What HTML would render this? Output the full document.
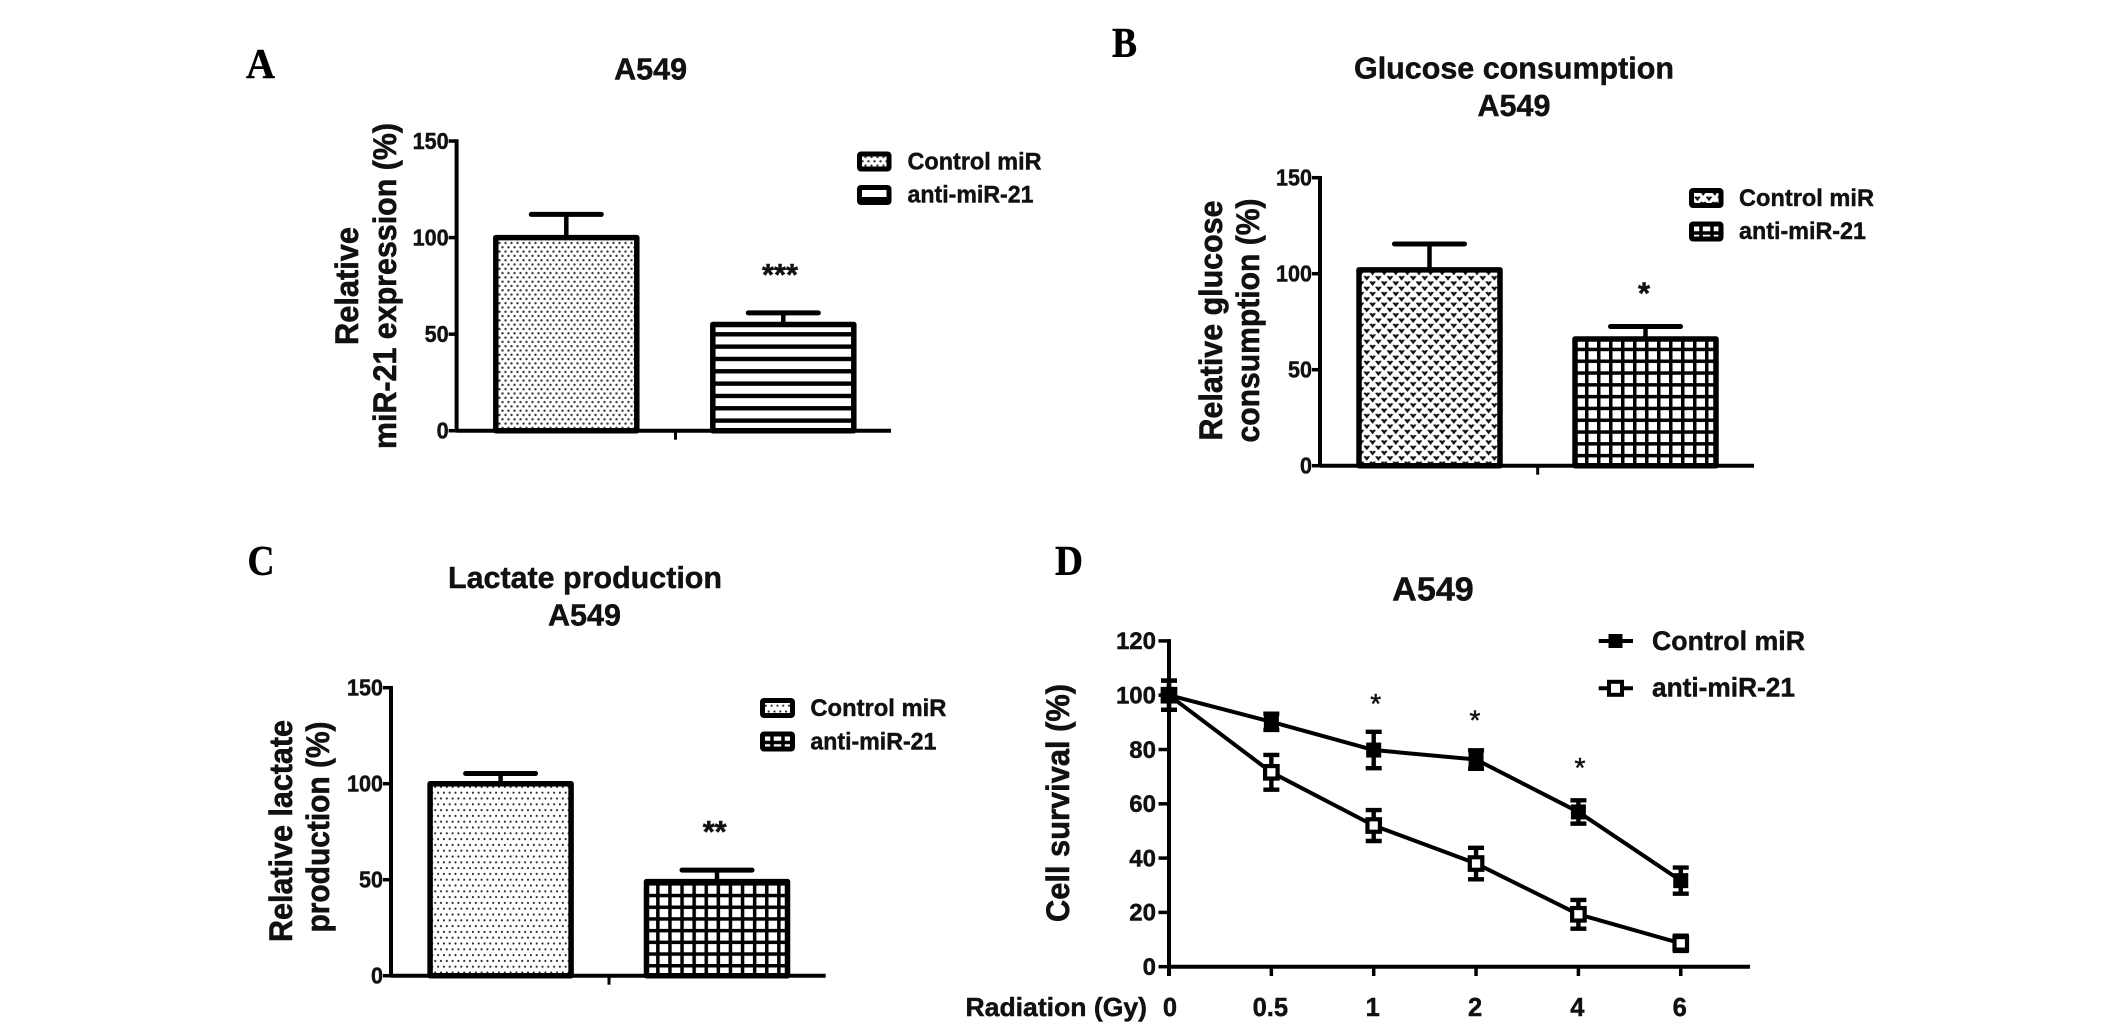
<!DOCTYPE html>
<html lang="en">
<head>
<meta charset="utf-8">
<title>miR-21 figure panels A-D</title>
<style>
html,body{margin:0;padding:0;background:#fff;width:2126px;height:1032px;overflow:hidden}
svg{display:block}
text{font-family:"Liberation Sans",Arial,sans-serif;font-weight:bold;fill:#111;stroke:#111;stroke-width:.45px}
.letter{font-family:"Liberation Serif","Times New Roman",serif;font-size:42px;fill:#000;stroke:#000}
.title{font-size:31px;text-anchor:middle}
.ytitle{font-size:32px;text-anchor:middle;stroke-width:.6px}
.leg{font-size:24.5px}
.star{font-size:31px;text-anchor:middle}
.tick{font-size:23px;text-anchor:end}
.dtick{font-size:24px;text-anchor:end}
.dx{font-size:25.5px;text-anchor:middle}
.dstar{font-size:28px;text-anchor:middle;font-weight:normal;stroke-width:.5px}
</style>
</head>
<body>
<svg id="fig" xmlns="http://www.w3.org/2000/svg" width="2126" height="1032" viewBox="0 0 2126 1032">
  <defs>
    <pattern id="pat-dots-a" patternUnits="userSpaceOnUse" width="6" height="8.6">
      <rect width="6" height="8.6" fill="#fff"/>
      <circle cx="1.5" cy="2.1" r="1.2" fill="#333"/>
      <circle cx="4.5" cy="6.4" r="1.2" fill="#333"/>
    </pattern>
    <pattern id="pat-stripes-a" patternUnits="userSpaceOnUse" width="20" height="12.33" y="332.1">
      <rect width="20" height="12.33" fill="#fff"/>
      <rect width="20" height="4.4" y="0" fill="#000"/>
    </pattern>
    <pattern id="pat-hearts-b" patternUnits="userSpaceOnUse" width="11.6" height="10.6" x="1357" y="270">
      <rect width="11.6" height="10.6" fill="#fff"/>
      <path d="M0.6 1 L3 .6 L4 1.6 L5 .6 L7.4 1 L4 5.4 Z" fill="#111"/>
      <path d="M6.4 6.3 L8.8 5.9 L9.8 6.9 L10.8 5.9 L13.2 6.3 L9.8 10.7 Z" fill="#111"/>
      <path d="M-5.2 6.3 L-2.8 5.9 L-1.8 6.9 L-0.8 5.9 L1.6 6.3 L-1.8 10.7 Z" fill="#111"/>
    </pattern>
    <pattern id="pat-grid-b" patternUnits="userSpaceOnUse" width="12" height="11.8" x="1573" y="465.7">
      <rect width="12" height="11.8" fill="#fff"/>
      <rect width="3.5" height="11.8" x="0" fill="#000"/>
      <rect width="12" height="3.5" y="0" fill="#000"/>
    </pattern>
    <pattern id="pat-dots-c" patternUnits="userSpaceOnUse" width="5.8" height="11.6" x="428" y="784">
      <rect width="5.8" height="11.6" fill="#fff"/>
      <circle cx="1.4" cy="2.9" r="1.05" fill="#222"/>
      <circle cx="4.3" cy="8.7" r="1.05" fill="#222"/>
    </pattern>
    <pattern id="pat-grid-c" patternUnits="userSpaceOnUse" width="12.1" height="11.7" x="644" y="975.7">
      <rect width="12.1" height="11.7" fill="#fff"/>
      <rect width="3.5" height="11.7" x="0" fill="#000"/>
      <rect width="12.1" height="3.5" y="0" fill="#000"/>
    </pattern>
  </defs>

  <!-- Panel A static text -->
  <g id="panel-a">
    <text class="letter" x="246" y="78" textLength="29" lengthAdjust="spacingAndGlyphs">A</text>
    <text class="title" x="650.6" y="79.3" textLength="73" lengthAdjust="spacingAndGlyphs">A549</text>
    <text class="ytitle" transform="translate(358,286) rotate(-90)" textLength="118" lengthAdjust="spacingAndGlyphs">Relative</text>
    <text class="ytitle" transform="translate(396,286) rotate(-90)" textLength="326" lengthAdjust="spacingAndGlyphs">miR-21 expression (%)</text>
    <rect x="859.5" y="154" width="29.5" height="15" rx="1.5" fill="url(#pat-dots-a)" stroke="#000" stroke-width="5"/>
    <rect x="859.5" y="187.5" width="29.5" height="15" rx="1.5" fill="#fff" stroke="#000" stroke-width="5"/>
    <rect x="859" y="197" width="30" height="6" fill="#000"/>
    <text class="leg" x="907.5" y="169.3" textLength="134" lengthAdjust="spacingAndGlyphs">Control miR</text>
    <text class="leg" x="907.5" y="202.7" textLength="126" lengthAdjust="spacingAndGlyphs">anti-miR-21</text>
    <text class="star" x="762" y="285" textLength="36" lengthAdjust="spacingAndGlyphs" style="text-anchor:start">***</text>
  </g>

  <!-- Panel B static text -->
  <g id="panel-b">
    <text class="letter" x="1112" y="57" textLength="25" lengthAdjust="spacingAndGlyphs">B</text>
    <text class="title" x="1514" y="78.3" textLength="320" lengthAdjust="spacingAndGlyphs">Glucose consumption</text>
    <text class="title" x="1514" y="116" textLength="73" lengthAdjust="spacingAndGlyphs">A549</text>
    <text class="ytitle" transform="translate(1222,320.5) rotate(-90)" textLength="240" lengthAdjust="spacingAndGlyphs">Relative glucose</text>
    <text class="ytitle" transform="translate(1259,320.5) rotate(-90)" textLength="244" lengthAdjust="spacingAndGlyphs">consumption (%)</text>
    <rect x="1691.5" y="190.5" width="29.5" height="15" rx="1.5" fill="url(#pat-hearts-b)" stroke="#000" stroke-width="5"/>
    <rect x="1691.5" y="224" width="29.5" height="15" rx="1.5" fill="#fff" stroke="#000" stroke-width="5"/>
    <path d="M1701 224V240M1712 224V240M1691 233H1721" stroke="#000" stroke-width="3.5" fill="none"/>
    <text class="leg" x="1739" y="206" textLength="135" lengthAdjust="spacingAndGlyphs">Control miR</text>
    <text class="leg" x="1739" y="239" textLength="127" lengthAdjust="spacingAndGlyphs">anti-miR-21</text>
    <text class="star" x="1644" y="303.6">*</text>
  </g>

  <!-- Panel C static text -->
  <g id="panel-c">
    <text class="letter" x="247.5" y="575" textLength="27" lengthAdjust="spacingAndGlyphs">C</text>
    <text class="title" x="585" y="588" textLength="274" lengthAdjust="spacingAndGlyphs">Lactate production</text>
    <text class="title" x="584.5" y="625.5" textLength="73" lengthAdjust="spacingAndGlyphs">A549</text>
    <text class="ytitle" transform="translate(292,831) rotate(-90)" textLength="222" lengthAdjust="spacingAndGlyphs">Relative lactate</text>
    <text class="ytitle" transform="translate(329,827) rotate(-90)" textLength="211" lengthAdjust="spacingAndGlyphs">production (%)</text>
    <rect x="762.5" y="700.5" width="30" height="15" rx="1.5" fill="url(#pat-dots-c)" stroke="#000" stroke-width="5"/>
    <rect x="762.5" y="734" width="30" height="15" rx="1.5" fill="#fff" stroke="#000" stroke-width="5"/>
    <path d="M772 734V750M783 734V750M762 742.5H792" stroke="#000" stroke-width="3.5" fill="none"/>
    <text class="leg" x="810.4" y="716" textLength="136" lengthAdjust="spacingAndGlyphs">Control miR</text>
    <text class="leg" x="810.4" y="749.3" textLength="126" lengthAdjust="spacingAndGlyphs">anti-miR-21</text>
    <text class="star" x="702.7" y="842" textLength="24" lengthAdjust="spacingAndGlyphs" style="text-anchor:start">**</text>
  </g>

  <!-- Panel D static text -->
  <g id="panel-d">
    <text class="letter" x="1055" y="575" textLength="28" lengthAdjust="spacingAndGlyphs">D</text>
    <text class="title" x="1433" y="600.7" style="font-size:33px" textLength="81.6" lengthAdjust="spacingAndGlyphs">A549</text>
    <text class="ytitle" transform="translate(1069,803) rotate(-90)" textLength="238" lengthAdjust="spacingAndGlyphs">Cell survival (%)</text>
    <text x="965.5" y="1016" style="font-size:26px" textLength="181.5" lengthAdjust="spacingAndGlyphs">Radiation (Gy)</text>
    <path d="M1598.7 641H1633" stroke="#000" stroke-width="4" fill="none"/>
    <rect x="1608.5" y="634" width="14" height="14" fill="#000"/>
    <path d="M1598.7 688.3H1633" stroke="#000" stroke-width="4" fill="none"/>
    <rect x="1609" y="681.8" width="13" height="13" fill="#fff" stroke="#000" stroke-width="4"/>
    <text x="1652" y="650" style="font-size:26.5px" textLength="153" lengthAdjust="spacingAndGlyphs">Control miR</text>
    <text x="1652" y="696.7" style="font-size:26.5px" textLength="143" lengthAdjust="spacingAndGlyphs">anti-miR-21</text>
    <text class="dstar" x="1375.7" y="713">*</text>
    <text class="dstar" x="1475" y="729.5">*</text>
    <text class="dstar" x="1580" y="777">*</text>
  </g>
</svg>

<script>
// ---- chart data ----
const barTickLabels = ['0', '50', '100', '150'];
const barTickValues = [0, 50, 100, 150];
const panelAMeans = [100, 55];
const panelAErrors = [12, 6];
const panelBMeans = [102, 66];
const panelBErrors = [13.5, 6.5];
const panelCMeans = [100, 49];
const panelCErrors = [5.3, 6];
const doseLabels = ['0', '0.5', '1', '2', '4', '6'];
const survivalTickValues = [0, 20, 40, 60, 80, 100, 120];
const controlSurvival = [100, 90.2, 79.8, 76.3, 57, 31.7];
const controlErrors = [5.4, 3, 6.7, 3.4, 4.3, 4.8];
const antiSurvival = [100, 71.6, 52, 38, 19.3, 8.6];
const antiErrors = [5.4, 6.4, 5.7, 5.8, 5.3, 2.8];

const NS = 'http://www.w3.org/2000/svg';
function make(tag, attrs, parent) {
  const el = document.createElementNS(NS, tag);
  for (const k in attrs) el.setAttribute(k, attrs[k]);
  parent.appendChild(el);
  return el;
}

function drawBarPanel(cfg, means, errors, fills) {
  const parent = document.getElementById(cfg.id);
  const y = v => cfg.y0 - v * cfg.yPerUnit;
  const x = i => cfg.x0 + i * cfg.step;

  // bars and error bars
  means.forEach((m, i) => {
    const cx = x(i);
    const stem = make('line', {x1: cx, x2: cx, y1: y(m), y2: y(m + errors[i]), stroke: '#000', 'stroke-width': 4.5}, parent);
    
    
    const cap = make('line', {x1: cx - 35, x2: cx + 35, y1: y(m + errors[i]), y2: y(m + errors[i]), stroke: '#000', 'stroke-width': 5, 'stroke-linecap': 'round'}, parent);
    
    
    const bar = make('rect', {x: cx - 70.5, y: y(m), width: 141, height: cfg.y0 - y(m), fill: fills[i], stroke: '#000', 'stroke-width': 5.5, 'stroke-linejoin': 'round'}, parent);
    
    
  });

  // y axis
  const yAxis = make('line', {x1: cfg.axisX, x2: cfg.axisX, y1: y(barTickValues[barTickValues.length - 1]) - 1.75, y2: cfg.y0 + 1.75, stroke: '#000', 'stroke-width': 4}, parent);
  
  
  barTickValues.forEach((v, i) => {
    const tick = make('line', {x1: cfg.axisX - 8, x2: cfg.axisX, y1: y(v), y2: y(v), stroke: '#000', 'stroke-width': 3.5}, parent);
    
    
    const label = make('text', {class: 'tick', x: cfg.axisX - 8, y: y(v) + 8, textLength: barTickLabels[i].length * 12, lengthAdjust: 'spacingAndGlyphs'}, parent);
    label.textContent = barTickLabels[i];
    
    
  });

  // x axis
  const xAxis = make('line', {x1: cfg.axisX, x2: cfg.axisEnd, y1: cfg.y0, y2: cfg.y0, stroke: '#000', 'stroke-width': 4}, parent);
  
  
  const xTick = make('line', {x1: cfg.tickX, x2: cfg.tickX, y1: cfg.y0, y2: cfg.y0 + 9, stroke: '#000', 'stroke-width': 3}, parent);
  
  
}

drawBarPanel({id: 'panel-a', x0: 566.3, step: 217, y0: 430.7, yPerUnit: 1.931, axisX: 456.6, axisEnd: 891, tickX: 675.5},
  panelAMeans, panelAErrors, ['url(#pat-dots-a)', 'url(#pat-stripes-a)']);
drawBarPanel({id: 'panel-b', x0: 1429.5, step: 216, y0: 465.7, yPerUnit: 1.92, axisX: 1320, axisEnd: 1754, tickX: 1537.7},
  panelBMeans, panelBErrors, ['url(#pat-hearts-b)', 'url(#pat-grid-b)']);
drawBarPanel({id: 'panel-c', x0: 500.6, step: 216.4, y0: 975.7, yPerUnit: 1.92, axisX: 391, axisEnd: 825.7, tickX: 609},
  panelCMeans, panelCErrors, ['url(#pat-dots-c)', 'url(#pat-grid-c)']);

// ---- Panel D line chart ----
(function () {
  const parent = document.getElementById('panel-d');
  const xAt = i => 1169 + i * 102.35;
  const yAt = v => 966.7 - v * 2.715;

  function drawSeries(values, errors, name, filled) {
    const d = values.map((v, i) => (i ? 'L' : 'M') + xAt(i) + ' ' + yAt(v)).join(' ');
    const line = make('path', {d: d, fill: 'none', stroke: '#000', 'stroke-width': 4, 'stroke-linejoin': 'round'}, parent);
    
    
    values.forEach((v, i) => {
      const cx = xAt(i);
      const top = yAt(v + errors[i]);
      const bot = yAt(v - errors[i]);
      const err = make('path', {d: 'M' + (cx - 8) + ' ' + top + 'H' + (cx + 8) + 'M' + cx + ' ' + top + 'V' + bot + 'M' + (cx - 8) + ' ' + bot + 'H' + (cx + 8), fill: 'none', stroke: '#000', 'stroke-width': 4.4}, parent);
      
      
      const size = filled ? 14 : 12.5;
      const marker = make('rect', {x: cx - size / 2, y: yAt(v) - size / 2, width: size, height: size, fill: filled ? '#000' : '#fff', stroke: '#000', 'stroke-width': filled ? 1 : 4.2}, parent);
      
      
    });
  }

  drawSeries(antiSurvival, antiErrors, 'anti-mir-21', false);
  drawSeries(controlSurvival, controlErrors, 'control-mir', true);

  const yAxis = make('line', {x1: 1169, x2: 1169, y1: yAt(120) - 1.75, y2: 976, stroke: '#000', 'stroke-width': 4}, parent);
  
  
  const xAxis = make('line', {x1: 1169, x2: 1750, y1: 966.7, y2: 966.7, stroke: '#000', 'stroke-width': 4}, parent);
  
  

  survivalTickValues.forEach(v => {
    const tick = make('line', {x1: 1158.5, x2: 1169, y1: yAt(v), y2: yAt(v), stroke: '#000', 'stroke-width': 3.5}, parent);
    
    
    const label = make('text', {class: 'dtick', x: 1156, y: yAt(v) + 8.3}, parent);
    label.textContent = String(v);
    
    
  });

  doseLabels.forEach((t, i) => {
    const tick = make('line', {x1: xAt(i), x2: xAt(i), y1: 966.7, y2: 976, stroke: '#000', 'stroke-width': 3.5}, parent);
    
    
    const label = make('text', {class: 'dx', x: xAt(i) + (i === 0 ? 1 : -1), y: 1016}, parent);
    label.textContent = t;
    
    
  });
})();
</script>
</body>
</html>
